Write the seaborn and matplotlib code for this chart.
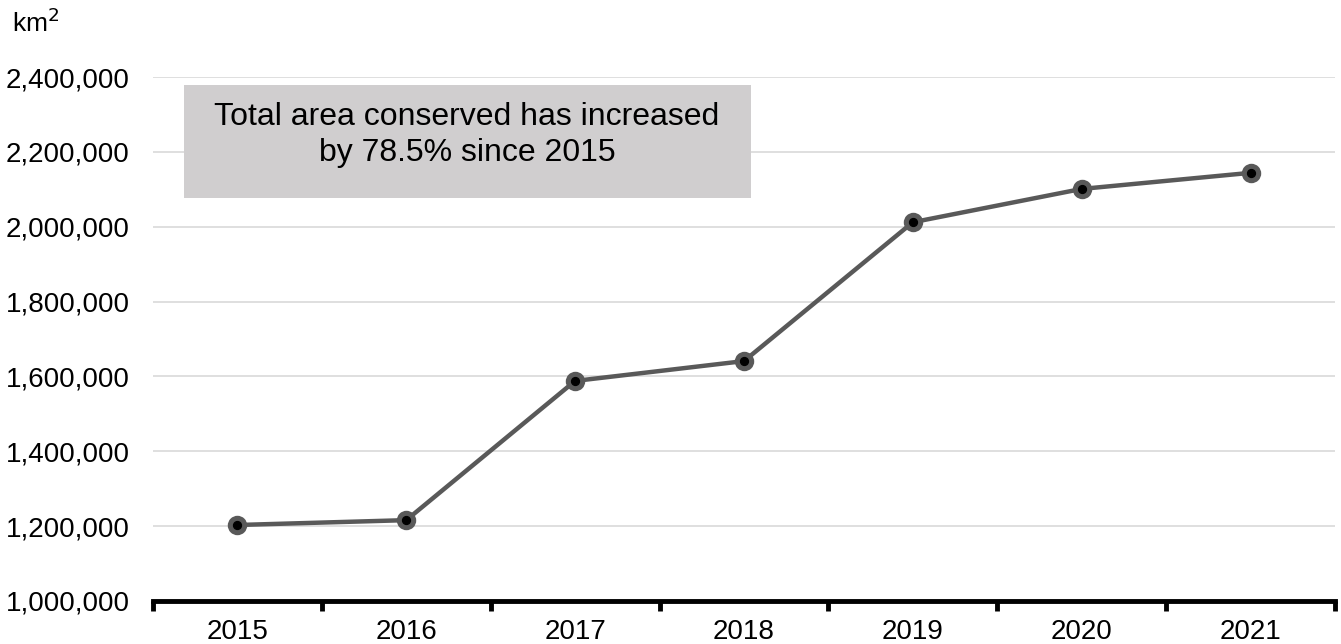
import matplotlib
matplotlib.use("Agg")
import matplotlib.pyplot as plt
import matplotlib.ticker as mticker
from matplotlib.patches import Rectangle
import seaborn as sns
import pandas as pd

years = ["2015", "2016", "2017", "2018", "2019", "2020", "2021"]
area_km2 = [1203000, 1216000, 1588000, 1641000, 2012000, 2101000, 2144000]

sns.set_style("white")
plt.rcParams["font.family"] = ["Liberation Sans", "DejaVu Sans"]
plt.rcParams["text.color"] = "black"
plt.rcParams["xtick.color"] = "black"
plt.rcParams["ytick.color"] = "black"

df = pd.DataFrame({"x": range(len(years)), "area": area_km2})

fig = plt.figure(figsize=(13.41, 6.44), dpi=100)
ax = fig.add_axes([0.1141, 0.0668, 0.8814, 0.8136])

sns.lineplot(data=df, x="x", y="area", ax=ax, color="#595959", lw=3.2,
             marker="o", markersize=14, markeredgewidth=0, zorder=3)
ax.scatter(df["x"], df["area"], s=32, color="black", zorder=4)

ax.set_xlim(-0.5, len(years) - 0.5)
ax.set_ylim(1000000, 2400000)
ax.yaxis.set_major_locator(mticker.MultipleLocator(200000))
ax.yaxis.set_major_formatter(mticker.FuncFormatter(lambda v, p: f"{int(v):,}"))
ax.set_axisbelow(True)
ax.grid(axis="y", color="#d9d9d9", lw=1.2)
ax.grid(axis="x", visible=False)

ax.set_xticks(range(len(years)))
ax.set_xticklabels(years)
ax.set_xticks([i - 0.5 for i in range(len(years) + 1)], minor=True)
ax.tick_params(axis="x", which="major", bottom=True, length=0, pad=13, labelsize=20)
ax.tick_params(axis="x", which="minor", bottom=True, length=7, width=3.5,
               color="black", direction="out")
ax.tick_params(axis="y", left=False, length=0, pad=17, labelsize=20)

for s in ["left", "right", "top"]:
    ax.spines[s].set_visible(False)
ax.spines["bottom"].set_linewidth(3.5)
ax.spines["bottom"].set_color("black")
ax.set_xlabel("")
ax.set_ylabel("")

# annotation box
ax.add_patch(Rectangle((-0.317, 2076700), 3.357, 301900, facecolor="#d0cecf",
                       edgecolor="none", zorder=2))
ax.text(1.36, 2246000, "Total area conserved has increased\nby 78.5% since 2015",
        ha="center", va="center", fontsize=23, linespacing=1.25, zorder=3)

fig.text(0.009, 0.965, "km$^2$", fontsize=19, ha="left", va="center")

fig.savefig("out.png", dpi=100)
